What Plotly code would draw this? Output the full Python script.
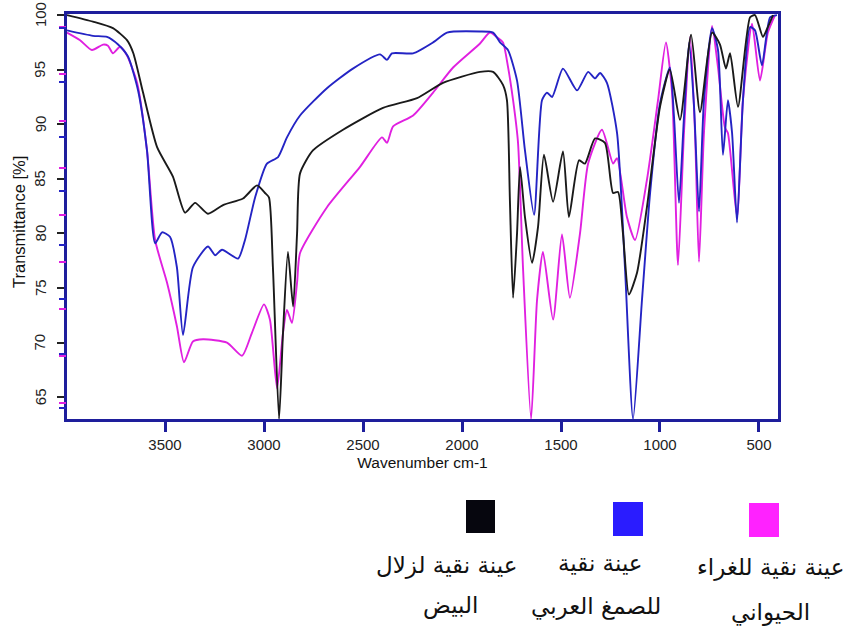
import plotly.graph_objects as go

# ---------------- data ----------------
black_wn = [3995,3864,3763,3692,3660,3611,3540,3460,3399,3348,
            3283,3207,3106,3035,2995,2975,2955,2924,2904,2879,
            2853,2833,2818,2753,2601,2399,2227,2096,1909,1843,
            1793,1773,1758,1742,1722,1707,1682,1646,1616,1586,
            1540,1490,1460,1409,1379,1328,1278,1237,1212,1187,
            1157,1116,1066,1000,950,899,843,798,737,697,
            667,646,606,545,520,480,460,429]
black_T = [100,99.4,98.8,97.7,96.5,92.9,87.9,85.2,81.9,82.8,
           81.8,82.6,83.2,84.4,83.7,83.3,76.9,63.0,70.9,78.3,
           73.3,80.0,85.5,87.6,89.5,91.5,92.4,93.8,94.8,94.8,
           93.6,92.2,83,74.1,80,86.1,81.5,77.3,80.6,87.2,
           82.9,87.5,81.5,86.7,86.4,88.7,88.3,83.7,83.8,80,
           74.4,76.4,82.4,91.6,95,90.4,98.2,91.1,98.4,97.3,
           95.1,96.5,91.6,99.8,100,98,98.7,100]

blue_wn = [3995,3864,3793,3737,3687,3636,3591,3550,3515,3475,
           3440,3409,3359,3283,3247,3212,3131,3096,3045,2985,
           2929,2884,2818,2682,2551,2414,2379,2354,2247,2146,
           2076,1909,1843,1808,1768,1722,1682,1636,1596,1571,
           1545,1490,1419,1363,1328,1303,1268,1217,1177,1136,
           1091,1050,1000,950,929,904,879,853,828,803,
           778,737,707,682,657,636,611,581,545,520,
           485,444,409]
blue_T = [98.6,98.1,98,97.3,96.2,93.1,87.6,79.1,80.1,79.7,
          76.9,70.7,76.9,78.8,78,78.5,77.7,79.4,83.3,86.4,
          87,88.8,90.8,93.3,95.1,96.4,95.9,96.5,96.5,97.5,
          98.4,98.5,98.4,97.5,96.8,94,87.6,81.7,92.2,92.9,
          92.5,95.1,93.1,94.8,94.2,94.7,93.8,89.2,76.9,63.0,
          73.9,83.7,91.9,95.2,90.6,82.8,90.6,97.5,91.6,82,
          92.2,98.8,96.8,87.2,92.2,89.2,81,92.2,98.9,98.6,
          95.4,99.8,100]

mag_wn = [3995,3929,3869,3813,3788,3763,3727,3692,3641,3591,
          3550,3490,3440,3404,3359,3308,3187,3111,3061,3000,
          2970,2934,2904,2884,2859,2833,2818,2682,2515,2404,
          2379,2348,2247,2146,2045,1909,1859,1818,1793,1768,
          1742,1717,1692,1651,1621,1591,1540,1495,1455,1404,
          1363,1293,1237,1217,1167,1126,1066,1010,970,939,
          909,879,848,823,803,778,737,707,672,657,
          611,581,535,495,455,419]
mag_T = [98.4,97.7,96.8,97.3,97.2,96.5,97.1,96.3,93.8,87.6,
         79.4,75.5,71.5,68.2,70.1,70.3,70,68.8,70.9,73.5,
         72.1,65.8,70.9,73,71.8,75.5,78.2,82.4,86.1,88.8,
         88.3,89.8,90.8,92.9,95.2,97.4,98.4,97.9,97.5,95.3,
         92.2,88.3,76.9,63.0,73.9,78.3,72.1,79.9,74.1,80,
         86.4,89.5,86.4,86.9,81.5,79.4,84.9,92.2,97.5,92.9,
         77.1,89.2,98,89.2,77.4,89.2,99,95.2,89.7,89.2,
         81.5,92.2,99.2,94,98.4,100]

x_ticks = [3500, 3000, 2500, 2000, 1500, 1000, 500]
y_ticks = [65, 70, 75, 80, 85, 90, 95, 100]

legend_lines = [
    ("عينة نقية لزلال", "البيض"),
    ("عينة نقية", "للصمغ العربي"),
    ("عينة نقية للغراء", "الحيواني"),
]

# ---------------- styling ----------------
W, H = 853, 632
L, R, T, B = 67, 778, 14, 419
FRAME = "#1e1e9c"
C_BLACK = "#1a1a1a"
C_BLUE = "#2424c4"
C_MAG = "#e020e0"
SQ_COLORS = ["#06060e", "#2a1cff", "#ff22ff"]


def px_x(p):
    return (p - L) / (R - L)


def px_y(p):
    return (B - p) / (B - T)


fig = go.Figure()
for wn, tv, col in [(mag_wn, mag_T, C_MAG), (blue_wn, blue_T, C_BLUE),
                    (black_wn, black_T, C_BLACK)]:
    fig.add_trace(go.Scatter(x=wn, y=tv, mode="lines",
                             line=dict(color=col, width=1.9, shape="spline", smoothing=0.6),
                             showlegend=False, hoverinfo="skip"))

# dummy traces so the secondary (tick-only) axes are drawn
fig.add_trace(go.Scatter(x=[None], y=[None], yaxis="y2", showlegend=False, hoverinfo="skip"))
fig.add_trace(go.Scatter(x=[None], y=[None], yaxis="y3", showlegend=False, hoverinfo="skip"))

font_main = "Liberation Sans, Arial, DejaVu Sans, sans-serif"
font_ar = "DejaVu Sans, Liberation Sans, sans-serif"

fig.update_layout(
    width=W, height=H,
    margin=dict(l=L, r=W - R, t=T, b=H - B, pad=0, autoexpand=False),
    paper_bgcolor="white", plot_bgcolor="white",
    font=dict(family=font_main, color="#222", size=15),
    xaxis=dict(range=[3995, 404], tickvals=x_ticks, ticks="outside", ticklen=10,
               tickwidth=2.5, tickcolor=FRAME, showline=True, mirror=True,
               linecolor=FRAME, linewidth=2.5, showgrid=False, zeroline=False,
               automargin=False, tickfont=dict(size=15, color="#222"),
               title=dict(text="Wavenumber cm-1", font=dict(size=15.5, color="#111"), standoff=6)),
    yaxis=dict(range=[63, 100.1], tickvals=y_ticks, ticks="outside", ticklen=7,
               tickwidth=1.5, tickcolor="#222", showticklabels=False, showline=True, mirror=True,
               linecolor=FRAME, linewidth=2.5, showgrid=False, zeroline=False,
               automargin=False),
    yaxis2=dict(overlaying="y", side="left", anchor="x", range=[0, 405], tick0=16, dtick=47,
                ticks="outside", ticklen=7, tickwidth=1.5, tickcolor=C_MAG, automargin=False,
                showticklabels=False, showline=False, showgrid=False, zeroline=False),
    yaxis3=dict(overlaying="y", side="left", anchor="x", range=[0, 405], tick0=11, dtick=54.3,
                ticks="outside", ticklen=7, tickwidth=1.5, tickcolor=C_BLUE, automargin=False,
                showticklabels=False, showline=False, showgrid=False, zeroline=False),
)

# rotated y tick labels
for v in y_ticks:
    fig.add_annotation(xref="paper", yref="y", x=px_x(40), y=v, text=str(v),
                       textangle=-90, showarrow=False, xanchor="center", yanchor="middle",
                       font=dict(size=15, color="#222"))
fig.add_annotation(xref="paper", yref="paper", x=px_x(19), y=px_y(222),
                   text="Transmittance [%]", textangle=-90, showarrow=False,
                   xanchor="center", yanchor="middle", font=dict(size=16.5, color="#111"))

# legend squares
squares = [(466, 500, 495, 533), (613, 502, 643, 536), (749, 503, 779, 537)]
for (x0, y0, x1, y1), col in zip(squares, SQ_COLORS):
    fig.add_shape(type="rect", xref="paper", yref="paper",
                  x0=px_x(x0), x1=px_x(x1), y0=px_y(y1), y1=px_y(y0),
                  fillcolor=col, line=dict(width=0))

# legend text (two lines per sample)
text_pos = [((447, 565), (450, 605)), ((600, 563), (596, 606)), ((770, 567), (770, 612))]
for (l1, l2), ((ax1, ay1), (ax2, ay2)) in zip(legend_lines, text_pos):
    for txt, ax, ay in [(l1, ax1, ay1), (l2, ax2, ay2)]:
        fig.add_annotation(xref="paper", yref="paper", x=px_x(ax), y=px_y(ay),
                           text=txt, showarrow=False, xanchor="center", yanchor="middle",
                           font=dict(family=font_ar, size=23, color="#111"))

fig.write_html("out.html", config={"displayModeBar": False},
               post_script="document.body.style.margin='0';")
